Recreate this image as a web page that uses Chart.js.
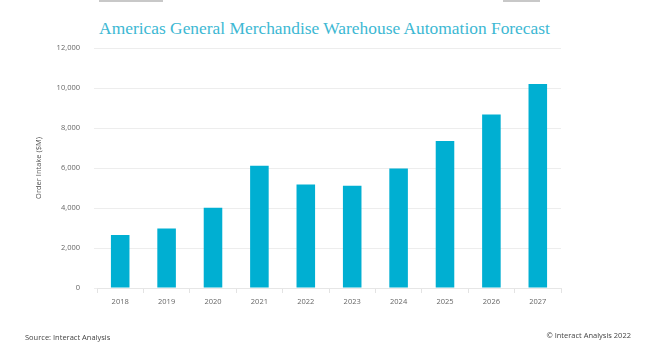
<!DOCTYPE html>
<html>
<head>
<meta charset="utf-8">
<script src="https://cdn.jsdelivr.net/npm/chart.js@4"></script>
<style>
  body { margin: 0; background: #fff; }
  #wrap { position: relative; width: 645px; height: 350px; overflow: hidden; }
  #chartBox { position: absolute; left: 0; top: 0; width: 645px; height: 350px; }
  .txt { position: absolute; white-space: nowrap; font-family: "Open Sans", sans-serif; color: #444; }
  #title { left: 2px; width: 645px; top: 18px; text-align: center; font-family: "Liberation Serif", serif; font-size: 17.4px; color: #3db8d3; }
  .frag { position: absolute; top: 0; height: 2px; background: #c8c8c8; }
</style>
</head>
<body>
<div id="wrap">
  <div class="frag" style="left:99px;width:64px"></div>
  <div class="frag" style="left:503px;width:37px"></div>
  <div class="txt" id="title">Americas General Merchandise Warehouse Automation Forecast</div>
  <div id="chartBox"><canvas id="myChart" width="645" height="350"></canvas></div>
  <div class="txt" style="left:25px;top:332px;font-size:7.5px;">Source: Interact Analysis</div>
  <div class="txt" style="right:14px;top:330px;font-size:7.5px;">© Interact Analysis 2022</div>
</div>
<script>
const years = ['2018', '2019', '2020', '2021', '2022', '2023', '2024', '2025', '2026', '2027'];
const orderIntake = [2650, 2980, 4010, 6110, 5180, 5110, 5980, 7350, 8680, 10200];
const barColor = '#00afd2';

var myChart;
function createChart() {
    const ctx = document.getElementById('myChart').getContext('2d');
    myChart = new Chart(ctx, {
        type: 'bar',
        data: {
            labels: years,
            datasets: [{
                label: 'Order Intake ($M)',
                data: orderIntake,
                backgroundColor: barColor,
                borderWidth: 0,
                categoryPercentage: 0.4,
                barPercentage: 1.0
            }]
        },
        options: {
            responsive: false,
            animation: false,
            layout: { padding: { left: 0, right: 84, top: 48, bottom: 0 } },
            plugins: {
                legend: { display: false },
                tooltip: { enabled: false }
            },
            scales: {
                x: {
                    afterFit: (scale) => { scale.height = 62; },
                    grid: { drawOnChartArea: false, tickLength: 5, color: '#e3e3e3' },
                    border: { color: '#e6e6e6' },
                    ticks: { color: '#666', padding: 4, font: { family: 'Open Sans', size: 7.5 } }
                },
                y: {
                    min: 0,
                    max: 12000,
                    afterFit: (scale) => { scale.width = 97; },
                    grid: { color: '#ededed', tickLength: 3 },
                    border: { display: false },
                    ticks: {
                        stepSize: 2000,
                        padding: 14,
                        color: '#666',
                        font: { family: 'Open Sans', size: 7.5 },
                        callback: (v) => v.toLocaleString('en-US')
                    },
                    title: {
                        display: true,
                        text: 'Order Intake ($M)',
                        color: '#555',
                        padding: { top: 34.5, bottom: 0 },
                        font: { family: 'Open Sans', size: 7.5 }
                    }
                }
            }
        }
    });
}

document.addEventListener('DOMContentLoaded', function () {
    createChart();
});
</script>
</body>
</html>
